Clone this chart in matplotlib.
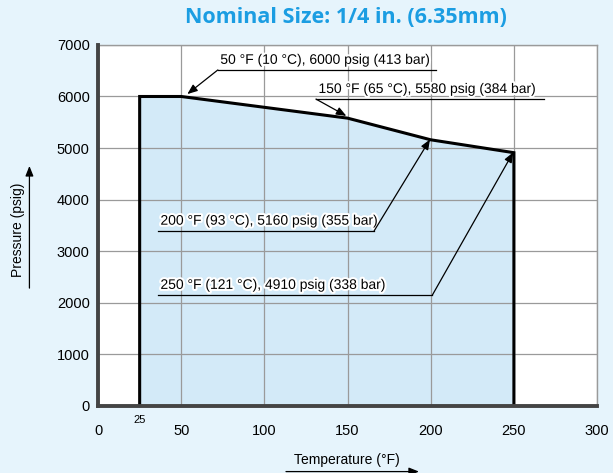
import matplotlib
matplotlib.use("Agg")
import matplotlib.pyplot as plt
import matplotlib.patheffects as pe
from matplotlib.patches import FancyArrowPatch

# Data
temps_f = [25, 50, 150, 200, 250]
pressure_psig = [6000, 6000, 5580, 5160, 4910]
temps_c = [None, 10, 65, 93, 121]
pressure_bar = [None, 413, 384, 355, 338]
x_ticks = [0, 50, 100, 150, 200, 250, 300]
y_ticks = [0, 1000, 2000, 3000, 4000, 5000, 6000, 7000]

plt.rcParams["font.family"] = ["Liberation Sans", "DejaVu Sans"]

bg = "#e6f4fc"
fig = plt.figure(figsize=(6.13, 4.73), dpi=100, facecolor=bg)
ax = fig.add_axes([0.160, 0.142, 0.814, 0.763])
ax.set_facecolor("white")

# outline of the rating area
px = [temps_f[0]] + temps_f + [temps_f[-1]]
py = [0] + pressure_psig + [0]
ax.fill(px, py, color="#d3eaf8", zorder=1)
ax.plot(px, py, color="black", lw=2.2, zorder=3, solid_joinstyle="miter")

ax.set_xlim(0, 300)
ax.set_ylim(0, 7000)
ax.set_xticks(x_ticks)
ax.set_yticks(y_ticks)
ax.tick_params(length=0, labelsize=10.5, pad=6)
ax.tick_params(axis="x", pad=13)
ax.grid(True, color="#9a9a9a", lw=0.9, zorder=2)
ax.set_axisbelow(False)
for s in ["top", "right"]:
    ax.spines[s].set_color("#9a9a9a")
    ax.spines[s].set_linewidth(1)
for s in ["left", "bottom"]:
    ax.spines[s].set_color("#444444")
    ax.spines[s].set_linewidth(2.8)
    ax.spines[s].set_zorder(4)

# small "25" label under the start line
ax.text(temps_f[0], -180, "25", ha="center", va="top", fontsize=8)

fig.text(0.565, 0.962, "Nominal Size: 1/4 in. (6.35mm)", ha="center", va="center",
         fontsize=15.5, fontweight="bold", color="#1b9de2", family=["Open Sans", "DejaVu Sans"])

# callouts: (index, underline x0, x1, y, arrow from which end)
callouts = [
    (1, 72, 203, 6515, "left"),
    (2, 131, 268, 5950, "left"),
    (3, 36, 166, 3395, "right"),
    (4, 36, 201, 2150, "right"),
]
halo = [pe.withStroke(linewidth=3, foreground="white")]
for i, x0, x1, yu, end in callouts:
    label = f"{temps_f[i]} °F ({temps_c[i]} °C), {pressure_psig[i]} psig ({pressure_bar[i]} bar)"
    ax.plot([x0, x1], [yu, yu], color="black", lw=0.9, zorder=5)
    ax.text(x0 + 1.5, yu + 60, label, ha="left", va="bottom", fontsize=10,
            zorder=6, path_effects=halo)
    sx = x1 if end == "right" else x0
    ax.annotate("", xy=(temps_f[i] + (3 if i == 1 else 0), pressure_psig[i] + 30),
                xytext=(sx, yu), zorder=6,
                arrowprops=dict(arrowstyle="-|>,head_length=0.5,head_width=0.2",
                                color="black", lw=0.9,
                                mutation_scale=12, shrinkA=0, shrinkB=1))

# axis titles with arrows
fig.text(0.030, 0.515, "Pressure (psig)", rotation=90, ha="center", va="center", fontsize=10)
fig.add_artist(FancyArrowPatch((0.048, 0.385), (0.048, 0.655),
               transform=fig.transFigure, arrowstyle="-|>,head_length=0.5,head_width=0.2",
               mutation_scale=12, color="black", lw=0.9))
fig.text(0.566, 0.027, "Temperature (°F)", ha="center", va="center", fontsize=10)
fig.add_artist(FancyArrowPatch((0.462, 0.003), (0.688, 0.003),
               transform=fig.transFigure, arrowstyle="-|>,head_length=0.5,head_width=0.2",
               mutation_scale=12, color="black", lw=0.9))

fig.savefig("out.png", dpi=100, facecolor=bg)
